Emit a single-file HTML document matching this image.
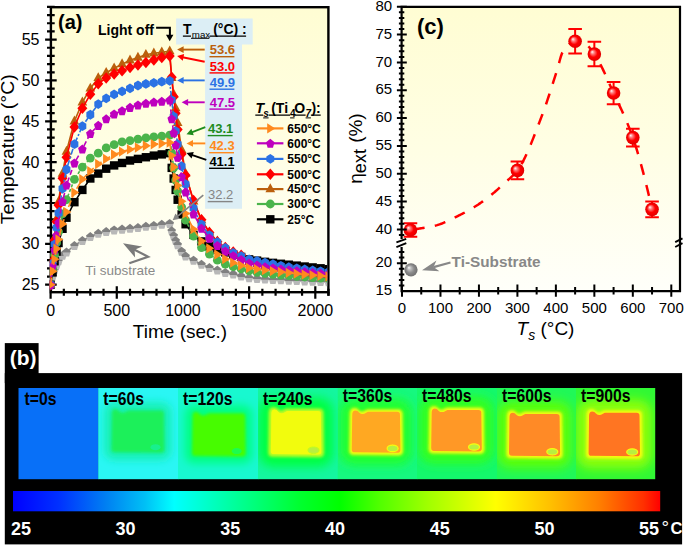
<!DOCTYPE html>
<html><head><meta charset="utf-8"><style>
html,body{margin:0;padding:0;background:#fff;width:685px;height:545px;overflow:hidden;position:relative}
</style></head><body>
<svg width="685" height="545" viewBox="0 0 685 545" style="position:absolute;left:0;top:0" font-family='"Liberation Sans", sans-serif'>
<defs>
<linearGradient id="bga" x1="0" y1="0" x2="0" y2="1"><stop offset="0" stop-color="#FFFDD3"/><stop offset="0.5" stop-color="#FFFEE4"/><stop offset="1" stop-color="#FFFFFA"/></linearGradient>
<linearGradient id="gpent" x1="0" y1="0" x2="0" y2="1"><stop offset="0" stop-color="#808080"/><stop offset="0.55" stop-color="#808080"/><stop offset="0.56" stop-color="#B8B8B8"/><stop offset="1" stop-color="#B8B8B8"/></linearGradient>
<radialGradient id="sphr" cx="0.5" cy="0.5" r="0.5" fx="0.33" fy="0.33"><stop offset="0" stop-color="#FFFFFF"/><stop offset="0.25" stop-color="#FF8080"/><stop offset="0.6" stop-color="#FF0000"/><stop offset="1" stop-color="#E00000"/></radialGradient>
<radialGradient id="sphg" cx="0.5" cy="0.5" r="0.5" fx="0.33" fy="0.33"><stop offset="0" stop-color="#FFFFFF"/><stop offset="0.25" stop-color="#C0C0C0"/><stop offset="0.6" stop-color="#8C8C8C"/><stop offset="1" stop-color="#707070"/></radialGradient>
<clipPath id="clipa"><rect x="49.7" y="8.4" width="277.5" height="282.6"/></clipPath>
</defs>
<rect x="50.9" y="7.2" width="277.5" height="285.0" fill="url(#bga)"/>
<path d="M176.1 18.6H252.7V44.5H242V208.8H205.1V44.5H176.1Z" fill="#DCEEF5"/>
<rect x="50.9" y="7.2" width="277.5" height="285.0" fill="none" stroke="#000" stroke-width="2.4"/>
<line x1="328.4" y1="292.2" x2="328.4" y2="295.8" stroke="#000" stroke-width="2.4"/>
<path d="M45.1 284.70H56.7M47 276.53H54.7M47 268.36H54.7M47 260.19H54.7M47 252.02H54.7M45.1 243.85H56.7M47 235.68H54.7M47 227.51H54.7M47 219.34H54.7M47 211.17H54.7M45.1 203.00H56.7M47 194.83H54.7M47 186.66H54.7M47 178.49H54.7M47 170.32H54.7M45.1 162.15H56.7M47 153.98H54.7M47 145.81H54.7M47 137.64H54.7M47 129.47H54.7M45.1 121.30H56.7M47 113.13H54.7M47 104.96H54.7M47 96.79H54.7M47 88.62H54.7M45.1 80.45H56.7M47 72.28H54.7M47 64.11H54.7M47 55.94H54.7M47 47.77H54.7M45.1 39.60H56.7M47 31.43H54.7M47 23.26H54.7M47 15.09H54.7M47 6.92H54.7M50.60 286.3V298.8M63.84 288.8V295.8M77.07 288.8V295.8M90.31 288.8V295.8M103.54 288.8V295.8M116.78 286.3V298.8M130.01 288.8V295.8M143.25 288.8V295.8M156.48 288.8V295.8M169.72 288.8V295.8M182.95 286.3V298.8M196.19 288.8V295.8M209.42 288.8V295.8M222.66 288.8V295.8M235.89 288.8V295.8M249.12 286.3V298.8M262.36 288.8V295.8M275.60 288.8V295.8M288.83 288.8V295.8M302.06 288.8V295.8M315.30 286.3V298.8M328.54 288.8V295.8" stroke="#000" stroke-width="2.2" fill="none"/>
<g clip-path="url(#clipa)">
<polyline points="50.60,284.70 52.59,276.34 54.57,269.83 56.56,264.76 58.54,260.81 62.51,255.34 66.48,252.02 74.42,245.48 82.36,240.58 90.31,236.50 98.25,233.23 106.19,231.59 114.13,229.96 122.07,229.14 130.01,228.33 137.95,227.51 145.89,226.28 153.83,225.47 161.77,224.24 169.72,223.43 171.70,230.78 173.69,235.68 175.67,240.58 177.66,244.67 181.63,251.20 185.60,256.11 193.54,260.19 201.48,264.27 209.42,267.54 217.36,269.99 225.30,272.44 233.24,274.08 241.18,276.12 249.12,277.76 257.07,278.50 265.01,279.05 272.95,279.47 280.89,279.84 288.83,280.21 296.77,280.59 304.71,280.95 312.65,281.28 320.59,281.58 328.54,281.84" fill="none" stroke="#8C8C8C" stroke-width="1.6"/>
<polygon points="50.60,280.15 54.88,283.60 53.25,289.20 47.95,289.20 46.32,283.60" fill="url(#gpent)"/>
<polygon points="52.59,271.79 56.87,275.24 55.23,280.83 49.94,280.83 48.31,275.24" fill="url(#gpent)"/>
<polygon points="54.57,265.28 58.85,268.73 57.22,274.32 51.93,274.32 50.29,268.73" fill="url(#gpent)"/>
<polygon points="56.56,260.21 60.84,263.66 59.20,269.25 53.91,269.25 52.28,263.66" fill="url(#gpent)"/>
<polygon points="58.54,256.26 62.82,259.71 61.19,265.30 55.90,265.30 54.26,259.71" fill="url(#gpent)"/>
<polygon points="62.51,250.79 66.79,254.24 65.16,259.83 59.87,259.83 58.23,254.24" fill="url(#gpent)"/>
<polygon points="66.48,247.47 70.76,250.92 69.13,256.52 63.84,256.52 62.20,250.92" fill="url(#gpent)"/>
<polygon points="74.42,240.93 78.70,244.39 77.07,249.98 71.78,249.98 70.14,244.39" fill="url(#gpent)"/>
<polygon points="82.36,236.03 86.64,239.49 85.01,245.08 79.72,245.08 78.08,239.49" fill="url(#gpent)"/>
<polygon points="90.31,231.95 94.58,235.40 92.95,240.99 87.66,240.99 86.03,235.40" fill="url(#gpent)"/>
<polygon points="98.25,228.68 102.53,232.13 100.89,237.72 95.60,237.72 93.97,232.13" fill="url(#gpent)"/>
<polygon points="106.19,227.04 110.47,230.50 108.83,236.09 103.54,236.09 101.91,230.50" fill="url(#gpent)"/>
<polygon points="114.13,225.41 118.41,228.87 116.77,234.46 111.48,234.46 109.85,228.87" fill="url(#gpent)"/>
<polygon points="122.07,224.59 126.35,228.05 124.71,233.64 119.42,233.64 117.79,228.05" fill="url(#gpent)"/>
<polygon points="130.01,223.78 134.29,227.23 132.66,232.82 127.36,232.82 125.73,227.23" fill="url(#gpent)"/>
<polygon points="137.95,222.96 142.23,226.41 140.60,232.01 135.31,232.01 133.67,226.41" fill="url(#gpent)"/>
<polygon points="145.89,221.73 150.17,225.19 148.54,230.78 143.25,230.78 141.61,225.19" fill="url(#gpent)"/>
<polygon points="153.83,220.92 158.11,224.37 156.48,229.96 151.19,229.96 149.55,224.37" fill="url(#gpent)"/>
<polygon points="161.77,219.69 166.05,223.15 164.42,228.74 159.13,228.74 157.49,223.15" fill="url(#gpent)"/>
<polygon points="169.72,218.88 173.99,222.33 172.36,227.92 167.07,227.92 165.44,222.33" fill="url(#gpent)"/>
<polygon points="171.70,226.23 175.98,229.68 174.35,235.27 169.06,235.27 167.42,229.68" fill="url(#gpent)"/>
<polygon points="173.69,231.13 177.97,234.58 176.33,240.18 171.04,240.18 169.41,234.58" fill="url(#gpent)"/>
<polygon points="175.67,236.03 179.95,239.49 178.32,245.08 173.03,245.08 171.39,239.49" fill="url(#gpent)"/>
<polygon points="177.66,240.12 181.94,243.57 180.30,249.16 175.01,249.16 173.38,243.57" fill="url(#gpent)"/>
<polygon points="181.63,246.65 185.91,250.11 184.27,255.70 178.98,255.70 177.35,250.11" fill="url(#gpent)"/>
<polygon points="185.60,251.56 189.88,255.01 188.24,260.60 182.95,260.60 181.32,255.01" fill="url(#gpent)"/>
<polygon points="193.54,255.64 197.82,259.09 196.18,264.69 190.89,264.69 189.26,259.09" fill="url(#gpent)"/>
<polygon points="201.48,259.72 205.76,263.18 204.12,268.77 198.83,268.77 197.20,263.18" fill="url(#gpent)"/>
<polygon points="209.42,262.99 213.70,266.45 212.07,272.04 206.77,272.04 205.14,266.45" fill="url(#gpent)"/>
<polygon points="217.36,265.44 221.64,268.90 220.01,274.49 214.72,274.49 213.08,268.90" fill="url(#gpent)"/>
<polygon points="225.30,267.89 229.58,271.35 227.95,276.94 222.66,276.94 221.02,271.35" fill="url(#gpent)"/>
<polygon points="233.24,269.53 237.52,272.98 235.89,278.57 230.60,278.57 228.96,272.98" fill="url(#gpent)"/>
<polygon points="241.18,271.57 245.46,275.03 243.83,280.62 238.54,280.62 236.90,275.03" fill="url(#gpent)"/>
<polygon points="249.12,273.21 253.40,276.66 251.77,282.25 246.48,282.25 244.85,276.66" fill="url(#gpent)"/>
<polygon points="257.07,273.95 261.35,277.40 259.71,282.99 254.42,282.99 252.79,277.40" fill="url(#gpent)"/>
<polygon points="265.01,274.50 269.29,277.95 267.65,283.54 262.36,283.54 260.73,277.95" fill="url(#gpent)"/>
<polygon points="272.95,274.92 277.23,278.38 275.59,283.97 270.30,283.97 268.67,278.38" fill="url(#gpent)"/>
<polygon points="280.89,275.29 285.17,278.74 283.53,284.33 278.24,284.33 276.61,278.74" fill="url(#gpent)"/>
<polygon points="288.83,275.66 293.11,279.11 291.48,284.70 286.18,284.70 284.55,279.11" fill="url(#gpent)"/>
<polygon points="296.77,276.04 301.05,279.49 299.42,285.08 294.13,285.08 292.49,279.49" fill="url(#gpent)"/>
<polygon points="304.71,276.40 308.99,279.85 307.36,285.44 302.07,285.44 300.43,279.85" fill="url(#gpent)"/>
<polygon points="312.65,276.73 316.93,280.18 315.30,285.77 310.01,285.77 308.37,280.18" fill="url(#gpent)"/>
<polygon points="320.59,277.03 324.87,280.48 323.24,286.07 317.95,286.07 316.31,280.48" fill="url(#gpent)"/>
<polygon points="328.54,277.29 332.81,280.75 331.18,286.34 325.89,286.34 324.26,280.75" fill="url(#gpent)"/>
<polyline points="50.60,284.70 52.59,272.25 54.57,261.26 56.56,251.56 58.54,243.00 62.51,228.78 66.48,217.71 74.42,202.18 82.36,189.93 90.31,178.49 98.25,173.59 106.19,168.69 114.13,165.42 122.07,162.97 130.01,160.52 137.95,158.88 145.89,157.25 153.83,155.61 161.77,154.39 169.72,153.16 171.70,167.87 173.69,178.49 175.67,189.93 177.66,199.73 181.63,214.44 185.60,224.24 193.54,234.86 201.48,241.40 209.42,246.30 217.36,249.57 225.30,252.43 233.24,254.47 241.18,256.92 249.12,259.37 257.07,260.60 265.01,261.82 272.95,262.85 280.89,263.77 288.83,264.68 296.77,265.61 304.71,266.52 312.65,267.42 320.59,268.30 328.54,269.18" fill="none" stroke="#000000" stroke-width="1.6"/>
<rect x="46.40" y="280.50" width="8.4" height="8.4" fill="#000"/>
<rect x="48.39" y="268.05" width="8.4" height="8.4" fill="#000"/>
<rect x="50.37" y="257.06" width="8.4" height="8.4" fill="#000"/>
<rect x="52.36" y="247.36" width="8.4" height="8.4" fill="#000"/>
<rect x="54.34" y="238.80" width="8.4" height="8.4" fill="#000"/>
<rect x="58.31" y="224.58" width="8.4" height="8.4" fill="#000"/>
<rect x="62.28" y="213.51" width="8.4" height="8.4" fill="#000"/>
<rect x="70.22" y="197.98" width="8.4" height="8.4" fill="#000"/>
<rect x="78.16" y="185.73" width="8.4" height="8.4" fill="#000"/>
<rect x="86.11" y="174.29" width="8.4" height="8.4" fill="#000"/>
<rect x="94.05" y="169.39" width="8.4" height="8.4" fill="#000"/>
<rect x="101.99" y="164.49" width="8.4" height="8.4" fill="#000"/>
<rect x="109.93" y="161.22" width="8.4" height="8.4" fill="#000"/>
<rect x="117.87" y="158.77" width="8.4" height="8.4" fill="#000"/>
<rect x="125.81" y="156.32" width="8.4" height="8.4" fill="#000"/>
<rect x="133.75" y="154.68" width="8.4" height="8.4" fill="#000"/>
<rect x="141.69" y="153.05" width="8.4" height="8.4" fill="#000"/>
<rect x="149.63" y="151.41" width="8.4" height="8.4" fill="#000"/>
<rect x="157.57" y="150.19" width="8.4" height="8.4" fill="#000"/>
<rect x="165.52" y="148.96" width="8.4" height="8.4" fill="#000"/>
<rect x="167.50" y="163.67" width="8.4" height="8.4" fill="#000"/>
<rect x="169.49" y="174.29" width="8.4" height="8.4" fill="#000"/>
<rect x="171.47" y="185.73" width="8.4" height="8.4" fill="#000"/>
<rect x="173.46" y="195.53" width="8.4" height="8.4" fill="#000"/>
<rect x="177.43" y="210.24" width="8.4" height="8.4" fill="#000"/>
<rect x="181.40" y="220.04" width="8.4" height="8.4" fill="#000"/>
<rect x="189.34" y="230.66" width="8.4" height="8.4" fill="#000"/>
<rect x="197.28" y="237.20" width="8.4" height="8.4" fill="#000"/>
<rect x="205.22" y="242.10" width="8.4" height="8.4" fill="#000"/>
<rect x="213.16" y="245.37" width="8.4" height="8.4" fill="#000"/>
<rect x="221.10" y="248.23" width="8.4" height="8.4" fill="#000"/>
<rect x="229.04" y="250.27" width="8.4" height="8.4" fill="#000"/>
<rect x="236.98" y="252.72" width="8.4" height="8.4" fill="#000"/>
<rect x="244.93" y="255.17" width="8.4" height="8.4" fill="#000"/>
<rect x="252.87" y="256.40" width="8.4" height="8.4" fill="#000"/>
<rect x="260.81" y="257.62" width="8.4" height="8.4" fill="#000"/>
<rect x="268.75" y="258.65" width="8.4" height="8.4" fill="#000"/>
<rect x="276.69" y="259.57" width="8.4" height="8.4" fill="#000"/>
<rect x="284.63" y="260.48" width="8.4" height="8.4" fill="#000"/>
<rect x="292.57" y="261.41" width="8.4" height="8.4" fill="#000"/>
<rect x="300.51" y="262.32" width="8.4" height="8.4" fill="#000"/>
<rect x="308.45" y="263.22" width="8.4" height="8.4" fill="#000"/>
<rect x="316.39" y="264.10" width="8.4" height="8.4" fill="#000"/>
<rect x="324.34" y="264.98" width="8.4" height="8.4" fill="#000"/>
<polyline points="50.60,284.70 52.59,268.91 54.57,254.97 56.56,242.67 58.54,231.81 62.51,213.78 66.48,199.73 74.42,179.31 82.36,167.05 90.31,158.06 98.25,153.16 106.19,147.93 114.13,144.67 122.07,141.97 130.01,140.58 137.95,139.11 145.89,137.89 153.83,136.90 161.77,136.09 169.72,135.19 171.70,153.16 173.69,167.87 175.67,180.12 177.66,191.15 181.63,207.08 185.60,220.16 193.54,236.09 201.48,247.53 209.42,254.06 217.36,260.19 225.30,264.03 233.24,266.73 241.18,268.93 249.12,270.81 257.07,272.44 265.01,273.49 272.95,274.32 280.89,275.04 288.83,275.71 296.77,276.37 304.71,277.00 312.65,277.58 320.59,278.10 328.54,278.57" fill="none" stroke="#4BB44B" stroke-width="1.6" stroke-dasharray="3 2"/>
<circle cx="50.60" cy="284.70" r="4.4" fill="#4BB44B"/>
<circle cx="52.59" cy="268.91" r="4.4" fill="#4BB44B"/>
<circle cx="54.57" cy="254.97" r="4.4" fill="#4BB44B"/>
<circle cx="56.56" cy="242.67" r="4.4" fill="#4BB44B"/>
<circle cx="58.54" cy="231.81" r="4.4" fill="#4BB44B"/>
<circle cx="62.51" cy="213.78" r="4.4" fill="#4BB44B"/>
<circle cx="66.48" cy="199.73" r="4.4" fill="#4BB44B"/>
<circle cx="74.42" cy="179.31" r="4.4" fill="#4BB44B"/>
<circle cx="82.36" cy="167.05" r="4.4" fill="#4BB44B"/>
<circle cx="90.31" cy="158.06" r="4.4" fill="#4BB44B"/>
<circle cx="98.25" cy="153.16" r="4.4" fill="#4BB44B"/>
<circle cx="106.19" cy="147.93" r="4.4" fill="#4BB44B"/>
<circle cx="114.13" cy="144.67" r="4.4" fill="#4BB44B"/>
<circle cx="122.07" cy="141.97" r="4.4" fill="#4BB44B"/>
<circle cx="130.01" cy="140.58" r="4.4" fill="#4BB44B"/>
<circle cx="137.95" cy="139.11" r="4.4" fill="#4BB44B"/>
<circle cx="145.89" cy="137.89" r="4.4" fill="#4BB44B"/>
<circle cx="153.83" cy="136.90" r="4.4" fill="#4BB44B"/>
<circle cx="161.77" cy="136.09" r="4.4" fill="#4BB44B"/>
<circle cx="169.72" cy="135.19" r="4.4" fill="#4BB44B"/>
<circle cx="171.70" cy="153.16" r="4.4" fill="#4BB44B"/>
<circle cx="173.69" cy="167.87" r="4.4" fill="#4BB44B"/>
<circle cx="175.67" cy="180.12" r="4.4" fill="#4BB44B"/>
<circle cx="177.66" cy="191.15" r="4.4" fill="#4BB44B"/>
<circle cx="181.63" cy="207.08" r="4.4" fill="#4BB44B"/>
<circle cx="185.60" cy="220.16" r="4.4" fill="#4BB44B"/>
<circle cx="193.54" cy="236.09" r="4.4" fill="#4BB44B"/>
<circle cx="201.48" cy="247.53" r="4.4" fill="#4BB44B"/>
<circle cx="209.42" cy="254.06" r="4.4" fill="#4BB44B"/>
<circle cx="217.36" cy="260.19" r="4.4" fill="#4BB44B"/>
<circle cx="225.30" cy="264.03" r="4.4" fill="#4BB44B"/>
<circle cx="233.24" cy="266.73" r="4.4" fill="#4BB44B"/>
<circle cx="241.18" cy="268.93" r="4.4" fill="#4BB44B"/>
<circle cx="249.12" cy="270.81" r="4.4" fill="#4BB44B"/>
<circle cx="257.07" cy="272.44" r="4.4" fill="#4BB44B"/>
<circle cx="265.01" cy="273.49" r="4.4" fill="#4BB44B"/>
<circle cx="272.95" cy="274.32" r="4.4" fill="#4BB44B"/>
<circle cx="280.89" cy="275.04" r="4.4" fill="#4BB44B"/>
<circle cx="288.83" cy="275.71" r="4.4" fill="#4BB44B"/>
<circle cx="296.77" cy="276.37" r="4.4" fill="#4BB44B"/>
<circle cx="304.71" cy="277.00" r="4.4" fill="#4BB44B"/>
<circle cx="312.65" cy="277.58" r="4.4" fill="#4BB44B"/>
<circle cx="320.59" cy="278.10" r="4.4" fill="#4BB44B"/>
<circle cx="328.54" cy="278.57" r="4.4" fill="#4BB44B"/>
<polyline points="50.60,284.70 52.59,259.95 54.57,238.10 56.56,218.82 58.54,201.81 62.51,173.54 66.48,151.53 74.42,121.30 82.36,102.35 90.31,88.46 98.25,78.00 106.19,72.69 114.13,68.19 122.07,64.11 130.01,60.35 137.95,57.57 145.89,54.71 153.83,53.33 161.77,52.18 169.72,51.20 171.70,78.00 173.69,94.34 175.67,108.23 177.66,122.93 181.63,149.89 185.60,173.59 193.54,201.37 201.48,220.16 209.42,232.41 217.36,241.40 225.30,247.94 233.24,252.84 241.18,257.74 249.12,261.82 257.07,264.13 265.01,265.97 272.95,267.47 280.89,268.77 288.83,269.99 296.77,271.18 304.71,272.29 312.65,273.29 320.59,274.16 328.54,274.90" fill="none" stroke="#BB5F0C" stroke-width="1.6"/>
<path d="M50.60 278.90L55.45 287.80L45.75 287.80Z" fill="#BB5F0C"/>
<path d="M52.59 254.15L57.44 263.05L47.74 263.05Z" fill="#BB5F0C"/>
<path d="M54.57 232.30L59.42 241.20L49.72 241.20Z" fill="#BB5F0C"/>
<path d="M56.56 213.02L61.41 221.92L51.71 221.92Z" fill="#BB5F0C"/>
<path d="M58.54 196.01L63.39 204.91L53.69 204.91Z" fill="#BB5F0C"/>
<path d="M62.51 167.74L67.36 176.64L57.66 176.64Z" fill="#BB5F0C"/>
<path d="M66.48 145.73L71.33 154.63L61.63 154.63Z" fill="#BB5F0C"/>
<path d="M74.42 115.50L79.27 124.40L69.57 124.40Z" fill="#BB5F0C"/>
<path d="M82.36 96.55L87.21 105.45L77.51 105.45Z" fill="#BB5F0C"/>
<path d="M90.31 82.66L95.16 91.56L85.46 91.56Z" fill="#BB5F0C"/>
<path d="M98.25 72.20L103.10 81.10L93.40 81.10Z" fill="#BB5F0C"/>
<path d="M106.19 66.89L111.04 75.79L101.34 75.79Z" fill="#BB5F0C"/>
<path d="M114.13 62.39L118.98 71.29L109.28 71.29Z" fill="#BB5F0C"/>
<path d="M122.07 58.31L126.92 67.21L117.22 67.21Z" fill="#BB5F0C"/>
<path d="M130.01 54.55L134.86 63.45L125.16 63.45Z" fill="#BB5F0C"/>
<path d="M137.95 51.77L142.80 60.67L133.10 60.67Z" fill="#BB5F0C"/>
<path d="M145.89 48.91L150.74 57.81L141.04 57.81Z" fill="#BB5F0C"/>
<path d="M153.83 47.53L158.68 56.43L148.98 56.43Z" fill="#BB5F0C"/>
<path d="M161.77 46.38L166.62 55.28L156.92 55.28Z" fill="#BB5F0C"/>
<path d="M169.72 45.40L174.56 54.30L164.87 54.30Z" fill="#BB5F0C"/>
<path d="M171.70 72.20L176.55 81.10L166.85 81.10Z" fill="#BB5F0C"/>
<path d="M173.69 88.54L178.54 97.44L168.84 97.44Z" fill="#BB5F0C"/>
<path d="M175.67 102.43L180.52 111.33L170.82 111.33Z" fill="#BB5F0C"/>
<path d="M177.66 117.13L182.51 126.03L172.81 126.03Z" fill="#BB5F0C"/>
<path d="M181.63 144.09L186.48 152.99L176.78 152.99Z" fill="#BB5F0C"/>
<path d="M185.60 167.79L190.45 176.69L180.75 176.69Z" fill="#BB5F0C"/>
<path d="M193.54 195.57L198.39 204.47L188.69 204.47Z" fill="#BB5F0C"/>
<path d="M201.48 214.36L206.33 223.26L196.63 223.26Z" fill="#BB5F0C"/>
<path d="M209.42 226.61L214.27 235.51L204.57 235.51Z" fill="#BB5F0C"/>
<path d="M217.36 235.60L222.21 244.50L212.51 244.50Z" fill="#BB5F0C"/>
<path d="M225.30 242.13L230.15 251.03L220.45 251.03Z" fill="#BB5F0C"/>
<path d="M233.24 247.04L238.09 255.94L228.39 255.94Z" fill="#BB5F0C"/>
<path d="M241.18 251.94L246.03 260.84L236.33 260.84Z" fill="#BB5F0C"/>
<path d="M249.12 256.02L253.97 264.92L244.28 264.92Z" fill="#BB5F0C"/>
<path d="M257.07 258.33L261.92 267.23L252.22 267.23Z" fill="#BB5F0C"/>
<path d="M265.01 260.17L269.86 269.07L260.16 269.07Z" fill="#BB5F0C"/>
<path d="M272.95 261.67L277.80 270.57L268.10 270.57Z" fill="#BB5F0C"/>
<path d="M280.89 262.97L285.74 271.87L276.04 271.87Z" fill="#BB5F0C"/>
<path d="M288.83 264.19L293.68 273.09L283.98 273.09Z" fill="#BB5F0C"/>
<path d="M296.77 265.38L301.62 274.28L291.92 274.28Z" fill="#BB5F0C"/>
<path d="M304.71 266.49L309.56 275.39L299.86 275.39Z" fill="#BB5F0C"/>
<path d="M312.65 267.49L317.50 276.39L307.80 276.39Z" fill="#BB5F0C"/>
<path d="M320.59 268.36L325.44 277.26L315.74 277.26Z" fill="#BB5F0C"/>
<path d="M328.54 269.10L333.39 278.00L323.69 278.00Z" fill="#BB5F0C"/>
<polyline points="50.60,284.70 52.59,261.01 54.57,240.10 56.56,221.65 58.54,205.37 62.51,178.32 66.48,157.25 74.42,127.02 82.36,108.23 90.31,94.34 98.25,83.72 106.19,78.00 114.13,73.91 122.07,70.65 130.01,67.38 137.95,64.93 145.89,62.48 153.83,60.02 161.77,57.57 169.72,55.94 171.70,77.18 173.69,96.79 175.67,113.13 177.66,129.47 181.63,153.98 185.60,175.22 193.54,200.55 201.48,219.75 209.42,232.41 217.36,241.81 225.30,247.53 233.24,252.02 241.18,255.29 249.12,260.60 257.07,262.64 265.01,264.39 272.95,266.00 280.89,267.47 288.83,268.77 296.77,269.94 304.71,271.04 312.65,272.04 320.59,272.92 328.54,273.67" fill="none" stroke="#FF0000" stroke-width="1.6"/>
<path d="M50.60 278.95L55.60 284.70L50.60 290.45L45.60 284.70Z" fill="#FF0000"/>
<path d="M52.59 255.26L57.59 261.01L52.59 266.76L47.59 261.01Z" fill="#FF0000"/>
<path d="M54.57 234.35L59.57 240.10L54.57 245.85L49.57 240.10Z" fill="#FF0000"/>
<path d="M56.56 215.90L61.56 221.65L56.56 227.40L51.56 221.65Z" fill="#FF0000"/>
<path d="M58.54 199.62L63.54 205.37L58.54 211.12L53.54 205.37Z" fill="#FF0000"/>
<path d="M62.51 172.57L67.51 178.32L62.51 184.07L57.51 178.32Z" fill="#FF0000"/>
<path d="M66.48 151.50L71.48 157.25L66.48 163.00L61.48 157.25Z" fill="#FF0000"/>
<path d="M74.42 121.27L79.42 127.02L74.42 132.77L69.42 127.02Z" fill="#FF0000"/>
<path d="M82.36 102.48L87.36 108.23L82.36 113.98L77.36 108.23Z" fill="#FF0000"/>
<path d="M90.31 88.59L95.31 94.34L90.31 100.09L85.31 94.34Z" fill="#FF0000"/>
<path d="M98.25 77.97L103.25 83.72L98.25 89.47L93.25 83.72Z" fill="#FF0000"/>
<path d="M106.19 72.25L111.19 78.00L106.19 83.75L101.19 78.00Z" fill="#FF0000"/>
<path d="M114.13 68.16L119.13 73.91L114.13 79.66L109.13 73.91Z" fill="#FF0000"/>
<path d="M122.07 64.90L127.07 70.65L122.07 76.40L117.07 70.65Z" fill="#FF0000"/>
<path d="M130.01 61.63L135.01 67.38L130.01 73.13L125.01 67.38Z" fill="#FF0000"/>
<path d="M137.95 59.18L142.95 64.93L137.95 70.68L132.95 64.93Z" fill="#FF0000"/>
<path d="M145.89 56.73L150.89 62.48L145.89 68.23L140.89 62.48Z" fill="#FF0000"/>
<path d="M153.83 54.27L158.83 60.02L153.83 65.77L148.83 60.02Z" fill="#FF0000"/>
<path d="M161.77 51.82L166.77 57.57L161.77 63.32L156.77 57.57Z" fill="#FF0000"/>
<path d="M169.72 50.19L174.72 55.94L169.72 61.69L164.72 55.94Z" fill="#FF0000"/>
<path d="M171.70 71.43L176.70 77.18L171.70 82.93L166.70 77.18Z" fill="#FF0000"/>
<path d="M173.69 91.04L178.69 96.79L173.69 102.54L168.69 96.79Z" fill="#FF0000"/>
<path d="M175.67 107.38L180.67 113.13L175.67 118.88L170.67 113.13Z" fill="#FF0000"/>
<path d="M177.66 123.72L182.66 129.47L177.66 135.22L172.66 129.47Z" fill="#FF0000"/>
<path d="M181.63 148.23L186.63 153.98L181.63 159.73L176.63 153.98Z" fill="#FF0000"/>
<path d="M185.60 169.47L190.60 175.22L185.60 180.97L180.60 175.22Z" fill="#FF0000"/>
<path d="M193.54 194.80L198.54 200.55L193.54 206.30L188.54 200.55Z" fill="#FF0000"/>
<path d="M201.48 214.00L206.48 219.75L201.48 225.50L196.48 219.75Z" fill="#FF0000"/>
<path d="M209.42 226.66L214.42 232.41L209.42 238.16L204.42 232.41Z" fill="#FF0000"/>
<path d="M217.36 236.06L222.36 241.81L217.36 247.56L212.36 241.81Z" fill="#FF0000"/>
<path d="M225.30 241.78L230.30 247.53L225.30 253.28L220.30 247.53Z" fill="#FF0000"/>
<path d="M233.24 246.27L238.24 252.02L233.24 257.77L228.24 252.02Z" fill="#FF0000"/>
<path d="M241.18 249.54L246.18 255.29L241.18 261.04L236.18 255.29Z" fill="#FF0000"/>
<path d="M249.12 254.85L254.12 260.60L249.12 266.35L244.12 260.60Z" fill="#FF0000"/>
<path d="M257.07 256.89L262.07 262.64L257.07 268.39L252.07 262.64Z" fill="#FF0000"/>
<path d="M265.01 258.64L270.01 264.39L265.01 270.14L260.01 264.39Z" fill="#FF0000"/>
<path d="M272.95 260.25L277.95 266.00L272.95 271.75L267.95 266.00Z" fill="#FF0000"/>
<path d="M280.89 261.72L285.89 267.47L280.89 273.22L275.89 267.47Z" fill="#FF0000"/>
<path d="M288.83 263.02L293.83 268.77L288.83 274.52L283.83 268.77Z" fill="#FF0000"/>
<path d="M296.77 264.19L301.77 269.94L296.77 275.69L291.77 269.94Z" fill="#FF0000"/>
<path d="M304.71 265.29L309.71 271.04L304.71 276.79L299.71 271.04Z" fill="#FF0000"/>
<path d="M312.65 266.29L317.65 272.04L312.65 277.79L307.65 272.04Z" fill="#FF0000"/>
<path d="M320.59 267.17L325.59 272.92L320.59 278.67L315.59 272.92Z" fill="#FF0000"/>
<path d="M328.54 267.92L333.54 273.67L328.54 279.42L323.54 273.67Z" fill="#FF0000"/>
<polyline points="50.60,284.70 52.59,263.29 54.57,244.39 56.56,227.71 58.54,212.99 62.51,188.54 66.48,169.50 74.42,144.18 82.36,126.20 90.31,114.76 98.25,104.14 106.19,98.42 114.13,94.34 122.07,91.40 130.01,88.37 137.95,85.52 145.89,83.96 153.83,82.90 161.77,81.68 169.72,80.86 171.70,100.06 173.69,116.40 175.67,131.10 177.66,144.18 181.63,166.23 185.60,184.21 193.54,208.31 201.48,224.49 209.42,235.27 217.36,242.22 225.30,247.94 233.24,252.84 241.18,256.11 249.12,259.37 257.07,261.01 265.01,262.64 272.95,264.24 280.89,265.78 288.83,267.13 296.77,268.31 304.71,269.41 312.65,270.42 320.59,271.30 328.54,272.04" fill="none" stroke="#2B72E4" stroke-width="1.6" stroke-dasharray="6 2 2 2"/>
<polygon points="50.60,279.80 54.55,282.25 54.55,287.15 50.60,289.60 46.65,287.15 46.65,282.25" fill="#2B72E4"/>
<polygon points="52.59,258.39 56.53,260.84 56.53,265.74 52.59,268.19 48.64,265.74 48.64,260.84" fill="#2B72E4"/>
<polygon points="54.57,239.49 58.52,241.94 58.52,246.84 54.57,249.29 50.62,246.84 50.62,241.94" fill="#2B72E4"/>
<polygon points="56.56,222.81 60.50,225.26 60.50,230.16 56.56,232.61 52.61,230.16 52.61,225.26" fill="#2B72E4"/>
<polygon points="58.54,208.09 62.49,210.54 62.49,215.44 58.54,217.89 54.59,215.44 54.59,210.54" fill="#2B72E4"/>
<polygon points="62.51,183.64 66.46,186.09 66.46,190.99 62.51,193.44 58.57,190.99 58.57,186.09" fill="#2B72E4"/>
<polygon points="66.48,164.60 70.43,167.05 70.43,171.95 66.48,174.40 62.54,171.95 62.54,167.05" fill="#2B72E4"/>
<polygon points="74.42,139.28 78.37,141.73 78.37,146.63 74.42,149.08 70.48,146.63 70.48,141.73" fill="#2B72E4"/>
<polygon points="82.36,121.30 86.31,123.75 86.31,128.65 82.36,131.10 78.42,128.65 78.42,123.75" fill="#2B72E4"/>
<polygon points="90.31,109.86 94.25,112.31 94.25,117.21 90.31,119.66 86.36,117.21 86.36,112.31" fill="#2B72E4"/>
<polygon points="98.25,99.24 102.19,101.69 102.19,106.59 98.25,109.04 94.30,106.59 94.30,101.69" fill="#2B72E4"/>
<polygon points="106.19,93.52 110.13,95.97 110.13,100.87 106.19,103.32 102.24,100.87 102.24,95.97" fill="#2B72E4"/>
<polygon points="114.13,89.44 118.07,91.89 118.07,96.79 114.13,99.24 110.18,96.79 110.18,91.89" fill="#2B72E4"/>
<polygon points="122.07,86.50 126.02,88.95 126.02,93.85 122.07,96.30 118.12,93.85 118.12,88.95" fill="#2B72E4"/>
<polygon points="130.01,83.47 133.96,85.92 133.96,90.82 130.01,93.27 126.06,90.82 126.06,85.92" fill="#2B72E4"/>
<polygon points="137.95,80.62 141.90,83.07 141.90,87.97 137.95,90.42 134.00,87.97 134.00,83.07" fill="#2B72E4"/>
<polygon points="145.89,79.06 149.84,81.51 149.84,86.41 145.89,88.86 141.95,86.41 141.95,81.51" fill="#2B72E4"/>
<polygon points="153.83,78.00 157.78,80.45 157.78,85.35 153.83,87.80 149.89,85.35 149.89,80.45" fill="#2B72E4"/>
<polygon points="161.77,76.78 165.72,79.23 165.72,84.13 161.77,86.58 157.83,84.13 157.83,79.23" fill="#2B72E4"/>
<polygon points="169.72,75.96 173.66,78.41 173.66,83.31 169.72,85.76 165.77,83.31 165.77,78.41" fill="#2B72E4"/>
<polygon points="171.70,95.16 175.65,97.61 175.65,102.51 171.70,104.96 167.75,102.51 167.75,97.61" fill="#2B72E4"/>
<polygon points="173.69,111.50 177.63,113.95 177.63,118.85 173.69,121.30 169.74,118.85 169.74,113.95" fill="#2B72E4"/>
<polygon points="175.67,126.20 179.62,128.65 179.62,133.55 175.67,136.00 171.72,133.55 171.72,128.65" fill="#2B72E4"/>
<polygon points="177.66,139.28 181.60,141.73 181.60,146.63 177.66,149.08 173.71,146.63 173.71,141.73" fill="#2B72E4"/>
<polygon points="181.63,161.33 185.57,163.78 185.57,168.68 181.63,171.13 177.68,168.68 177.68,163.78" fill="#2B72E4"/>
<polygon points="185.60,179.31 189.54,181.76 189.54,186.66 185.60,189.11 181.65,186.66 181.65,181.76" fill="#2B72E4"/>
<polygon points="193.54,203.41 197.48,205.86 197.48,210.76 193.54,213.21 189.59,210.76 189.59,205.86" fill="#2B72E4"/>
<polygon points="201.48,219.59 205.43,222.04 205.43,226.94 201.48,229.39 197.53,226.94 197.53,222.04" fill="#2B72E4"/>
<polygon points="209.42,230.37 213.37,232.82 213.37,237.72 209.42,240.17 205.47,237.72 205.47,232.82" fill="#2B72E4"/>
<polygon points="217.36,237.32 221.31,239.77 221.31,244.67 217.36,247.12 213.41,244.67 213.41,239.77" fill="#2B72E4"/>
<polygon points="225.30,243.03 229.25,245.49 229.25,250.38 225.30,252.84 221.36,250.38 221.36,245.49" fill="#2B72E4"/>
<polygon points="233.24,247.94 237.19,250.39 237.19,255.29 233.24,257.74 229.30,255.29 229.30,250.39" fill="#2B72E4"/>
<polygon points="241.18,251.21 245.13,253.66 245.13,258.56 241.18,261.00 237.24,258.56 237.24,253.66" fill="#2B72E4"/>
<polygon points="249.12,254.47 253.07,256.92 253.07,261.82 249.12,264.27 245.18,261.82 245.18,256.92" fill="#2B72E4"/>
<polygon points="257.07,256.11 261.01,258.56 261.01,263.46 257.07,265.91 253.12,263.46 253.12,258.56" fill="#2B72E4"/>
<polygon points="265.01,257.74 268.95,260.19 268.95,265.09 265.01,267.54 261.06,265.09 261.06,260.19" fill="#2B72E4"/>
<polygon points="272.95,259.34 276.89,261.79 276.89,266.69 272.95,269.14 269.00,266.69 269.00,261.79" fill="#2B72E4"/>
<polygon points="280.89,260.88 284.84,263.33 284.84,268.23 280.89,270.68 276.94,268.23 276.94,263.33" fill="#2B72E4"/>
<polygon points="288.83,262.23 292.78,264.68 292.78,269.58 288.83,272.03 284.88,269.58 284.88,264.68" fill="#2B72E4"/>
<polygon points="296.77,263.41 300.72,265.86 300.72,270.76 296.77,273.21 292.82,270.76 292.82,265.86" fill="#2B72E4"/>
<polygon points="304.71,264.51 308.66,266.96 308.66,271.86 304.71,274.31 300.77,271.86 300.77,266.96" fill="#2B72E4"/>
<polygon points="312.65,265.52 316.60,267.97 316.60,272.87 312.65,275.32 308.71,272.87 308.71,267.97" fill="#2B72E4"/>
<polygon points="320.59,266.40 324.54,268.85 324.54,273.75 320.59,276.20 316.65,273.75 316.65,268.85" fill="#2B72E4"/>
<polygon points="328.54,267.14 332.48,269.59 332.48,274.49 328.54,276.94 324.59,274.49 324.59,269.59" fill="#2B72E4"/>
<polyline points="50.60,284.70 52.59,266.17 54.57,249.82 56.56,235.39 58.54,222.66 62.51,201.50 66.48,185.03 74.42,162.97 82.36,149.08 90.31,133.55 98.25,125.38 106.19,118.85 114.13,113.95 122.07,110.68 130.01,107.41 137.95,104.96 145.89,103.33 153.83,102.10 161.77,101.28 169.72,100.06 171.70,118.85 173.69,132.74 175.67,144.99 177.66,157.25 181.63,176.86 185.60,191.97 193.54,214.11 201.48,228.33 209.42,238.13 217.36,245.48 225.30,251.20 233.24,255.70 241.18,259.62 249.12,263.05 257.07,265.09 265.01,266.73 272.95,267.96 280.89,269.03 288.83,269.99 296.77,270.92 304.71,271.80 312.65,272.63 320.59,273.39 328.54,274.08" fill="none" stroke="#BE00BE" stroke-width="1.6" stroke-dasharray="5 3"/>
<polygon points="50.60,280.15 54.88,283.60 53.25,289.20 47.95,289.20 46.32,283.60" fill="#BE00BE"/>
<polygon points="52.59,261.62 56.87,265.08 55.23,270.67 49.94,270.67 48.31,265.08" fill="#BE00BE"/>
<polygon points="54.57,245.27 58.85,248.73 57.22,254.32 51.93,254.32 50.29,248.73" fill="#BE00BE"/>
<polygon points="56.56,230.84 60.84,234.30 59.20,239.89 53.91,239.89 52.28,234.30" fill="#BE00BE"/>
<polygon points="58.54,218.11 62.82,221.56 61.19,227.15 55.90,227.15 54.26,221.56" fill="#BE00BE"/>
<polygon points="62.51,196.95 66.79,200.41 65.16,206.00 59.87,206.00 58.23,200.41" fill="#BE00BE"/>
<polygon points="66.48,180.48 70.76,183.93 69.13,189.52 63.84,189.52 62.20,183.93" fill="#BE00BE"/>
<polygon points="74.42,158.42 78.70,161.87 77.07,167.46 71.78,167.46 70.14,161.87" fill="#BE00BE"/>
<polygon points="82.36,144.53 86.64,147.98 85.01,153.57 79.72,153.57 78.08,147.98" fill="#BE00BE"/>
<polygon points="90.31,129.00 94.58,132.46 92.95,138.05 87.66,138.05 86.03,132.46" fill="#BE00BE"/>
<polygon points="98.25,120.83 102.53,124.29 100.89,129.88 95.60,129.88 93.97,124.29" fill="#BE00BE"/>
<polygon points="106.19,114.30 110.47,117.75 108.83,123.34 103.54,123.34 101.91,117.75" fill="#BE00BE"/>
<polygon points="114.13,109.40 118.41,112.85 116.77,118.44 111.48,118.44 109.85,112.85" fill="#BE00BE"/>
<polygon points="122.07,106.13 126.35,109.58 124.71,115.17 119.42,115.17 117.79,109.58" fill="#BE00BE"/>
<polygon points="130.01,102.86 134.29,106.32 132.66,111.91 127.36,111.91 125.73,106.32" fill="#BE00BE"/>
<polygon points="137.95,100.41 142.23,103.86 140.60,109.46 135.31,109.46 133.67,103.86" fill="#BE00BE"/>
<polygon points="145.89,98.78 150.17,102.23 148.54,107.82 143.25,107.82 141.61,102.23" fill="#BE00BE"/>
<polygon points="153.83,97.55 158.11,101.01 156.48,106.60 151.19,106.60 149.55,101.01" fill="#BE00BE"/>
<polygon points="161.77,96.73 166.05,100.19 164.42,105.78 159.13,105.78 157.49,100.19" fill="#BE00BE"/>
<polygon points="169.72,95.51 173.99,98.96 172.36,104.55 167.07,104.55 165.44,98.96" fill="#BE00BE"/>
<polygon points="171.70,114.30 175.98,117.75 174.35,123.34 169.06,123.34 167.42,117.75" fill="#BE00BE"/>
<polygon points="173.69,128.19 177.97,131.64 176.33,137.23 171.04,137.23 169.41,131.64" fill="#BE00BE"/>
<polygon points="175.67,140.44 179.95,143.90 178.32,149.49 173.03,149.49 171.39,143.90" fill="#BE00BE"/>
<polygon points="177.66,152.70 181.94,156.15 180.30,161.74 175.01,161.74 173.38,156.15" fill="#BE00BE"/>
<polygon points="181.63,172.31 185.91,175.76 184.27,181.35 178.98,181.35 177.35,175.76" fill="#BE00BE"/>
<polygon points="185.60,187.42 189.88,190.88 188.24,196.47 182.95,196.47 181.32,190.88" fill="#BE00BE"/>
<polygon points="193.54,209.56 197.82,213.02 196.18,218.61 190.89,218.61 189.26,213.02" fill="#BE00BE"/>
<polygon points="201.48,223.78 205.76,227.23 204.12,232.82 198.83,232.82 197.20,227.23" fill="#BE00BE"/>
<polygon points="209.42,233.58 213.70,237.04 212.07,242.63 206.77,242.63 205.14,237.04" fill="#BE00BE"/>
<polygon points="217.36,240.93 221.64,244.39 220.01,249.98 214.72,249.98 213.08,244.39" fill="#BE00BE"/>
<polygon points="225.30,246.65 229.58,250.11 227.95,255.70 222.66,255.70 221.02,250.11" fill="#BE00BE"/>
<polygon points="233.24,251.15 237.52,254.60 235.89,260.19 230.60,260.19 228.96,254.60" fill="#BE00BE"/>
<polygon points="241.18,255.07 245.46,258.52 243.83,264.11 238.54,264.11 236.90,258.52" fill="#BE00BE"/>
<polygon points="249.12,258.50 253.40,261.95 251.77,267.54 246.48,267.54 244.85,261.95" fill="#BE00BE"/>
<polygon points="257.07,260.54 261.35,264.00 259.71,269.59 254.42,269.59 252.79,264.00" fill="#BE00BE"/>
<polygon points="265.01,262.18 269.29,265.63 267.65,271.22 262.36,271.22 260.73,265.63" fill="#BE00BE"/>
<polygon points="272.95,263.41 277.23,266.87 275.59,272.46 270.30,272.46 268.67,266.87" fill="#BE00BE"/>
<polygon points="280.89,264.48 285.17,267.93 283.53,273.52 278.24,273.52 276.61,267.93" fill="#BE00BE"/>
<polygon points="288.83,265.44 293.11,268.90 291.48,274.49 286.18,274.49 284.55,268.90" fill="#BE00BE"/>
<polygon points="296.77,266.37 301.05,269.83 299.42,275.42 294.13,275.42 292.49,269.83" fill="#BE00BE"/>
<polygon points="304.71,267.25 308.99,270.71 307.36,276.30 302.07,276.30 300.43,270.71" fill="#BE00BE"/>
<polygon points="312.65,268.08 316.93,271.53 315.30,277.12 310.01,277.12 308.37,271.53" fill="#BE00BE"/>
<polygon points="320.59,268.84 324.87,272.30 323.24,277.89 317.95,277.89 316.31,272.30" fill="#BE00BE"/>
<polygon points="328.54,269.53 332.81,272.98 331.18,278.57 325.89,278.57 324.26,272.98" fill="#BE00BE"/>
<polyline points="50.60,284.70 52.59,271.18 54.57,259.26 56.56,248.73 58.54,239.44 62.51,224.01 66.48,211.99 74.42,192.38 82.36,179.31 90.31,171.14 98.25,164.03 106.19,158.88 114.13,154.47 122.07,151.61 130.01,149.40 137.95,147.61 145.89,145.73 153.83,144.18 161.77,143.52 169.72,142.54 171.70,155.61 173.69,167.05 175.67,177.67 177.66,185.43 181.63,201.37 185.60,213.62 193.54,229.14 201.48,240.99 209.42,248.34 217.36,254.47 225.30,258.96 233.24,262.64 241.18,265.50 249.12,267.95 257.07,269.18 265.01,270.16 272.95,271.09 280.89,272.00 288.83,272.85 296.77,273.66 304.71,274.43 312.65,275.17 320.59,275.87 328.54,276.53" fill="none" stroke="#FF8A1E" stroke-width="1.6" stroke-dasharray="7 3"/>
<path d="M55.50 284.70L47.50 279.50L47.50 289.90Z" fill="#FF8A1E"/>
<path d="M57.49 271.18L49.49 265.98L49.49 276.38Z" fill="#FF8A1E"/>
<path d="M59.47 259.26L51.47 254.06L51.47 264.46Z" fill="#FF8A1E"/>
<path d="M61.46 248.73L53.46 243.53L53.46 253.93Z" fill="#FF8A1E"/>
<path d="M63.44 239.44L55.44 234.24L55.44 244.64Z" fill="#FF8A1E"/>
<path d="M67.41 224.01L59.41 218.81L59.41 229.21Z" fill="#FF8A1E"/>
<path d="M71.38 211.99L63.38 206.79L63.38 217.19Z" fill="#FF8A1E"/>
<path d="M79.32 192.38L71.32 187.18L71.32 197.58Z" fill="#FF8A1E"/>
<path d="M87.26 179.31L79.26 174.11L79.26 184.51Z" fill="#FF8A1E"/>
<path d="M95.21 171.14L87.21 165.94L87.21 176.34Z" fill="#FF8A1E"/>
<path d="M103.15 164.03L95.15 158.83L95.15 169.23Z" fill="#FF8A1E"/>
<path d="M111.09 158.88L103.09 153.68L103.09 164.08Z" fill="#FF8A1E"/>
<path d="M119.03 154.47L111.03 149.27L111.03 159.67Z" fill="#FF8A1E"/>
<path d="M126.97 151.61L118.97 146.41L118.97 156.81Z" fill="#FF8A1E"/>
<path d="M134.91 149.40L126.91 144.20L126.91 154.60Z" fill="#FF8A1E"/>
<path d="M142.85 147.61L134.85 142.41L134.85 152.81Z" fill="#FF8A1E"/>
<path d="M150.79 145.73L142.79 140.53L142.79 150.93Z" fill="#FF8A1E"/>
<path d="M158.73 144.18L150.73 138.98L150.73 149.38Z" fill="#FF8A1E"/>
<path d="M166.67 143.52L158.67 138.32L158.67 148.72Z" fill="#FF8A1E"/>
<path d="M174.62 142.54L166.62 137.34L166.62 147.74Z" fill="#FF8A1E"/>
<path d="M176.60 155.61L168.60 150.41L168.60 160.81Z" fill="#FF8A1E"/>
<path d="M178.59 167.05L170.59 161.85L170.59 172.25Z" fill="#FF8A1E"/>
<path d="M180.57 177.67L172.57 172.47L172.57 182.87Z" fill="#FF8A1E"/>
<path d="M182.56 185.43L174.56 180.23L174.56 190.63Z" fill="#FF8A1E"/>
<path d="M186.53 201.37L178.53 196.17L178.53 206.57Z" fill="#FF8A1E"/>
<path d="M190.50 213.62L182.50 208.42L182.50 218.82Z" fill="#FF8A1E"/>
<path d="M198.44 229.14L190.44 223.94L190.44 234.34Z" fill="#FF8A1E"/>
<path d="M206.38 240.99L198.38 235.79L198.38 246.19Z" fill="#FF8A1E"/>
<path d="M214.32 248.34L206.32 243.14L206.32 253.54Z" fill="#FF8A1E"/>
<path d="M222.26 254.47L214.26 249.27L214.26 259.67Z" fill="#FF8A1E"/>
<path d="M230.20 258.96L222.20 253.76L222.20 264.16Z" fill="#FF8A1E"/>
<path d="M238.14 262.64L230.14 257.44L230.14 267.84Z" fill="#FF8A1E"/>
<path d="M246.08 265.50L238.08 260.30L238.08 270.70Z" fill="#FF8A1E"/>
<path d="M254.03 267.95L246.03 262.75L246.03 273.15Z" fill="#FF8A1E"/>
<path d="M261.97 269.18L253.97 263.98L253.97 274.38Z" fill="#FF8A1E"/>
<path d="M269.91 270.16L261.91 264.96L261.91 275.36Z" fill="#FF8A1E"/>
<path d="M277.85 271.09L269.85 265.89L269.85 276.29Z" fill="#FF8A1E"/>
<path d="M285.79 272.00L277.79 266.80L277.79 277.20Z" fill="#FF8A1E"/>
<path d="M293.73 272.85L285.73 267.65L285.73 278.05Z" fill="#FF8A1E"/>
<path d="M301.67 273.66L293.67 268.46L293.67 278.86Z" fill="#FF8A1E"/>
<path d="M309.61 274.43L301.61 269.23L301.61 279.63Z" fill="#FF8A1E"/>
<path d="M317.55 275.17L309.55 269.97L309.55 280.37Z" fill="#FF8A1E"/>
<path d="M325.49 275.87L317.49 270.67L317.49 281.07Z" fill="#FF8A1E"/>
<path d="M333.44 276.53L325.44 271.33L325.44 281.73Z" fill="#FF8A1E"/>
</g>
<text x="39.5" y="290.30" font-size="16" text-anchor="end">25</text>
<text x="39.5" y="249.45" font-size="16" text-anchor="end">30</text>
<text x="39.5" y="208.60" font-size="16" text-anchor="end">35</text>
<text x="39.5" y="167.75" font-size="16" text-anchor="end">40</text>
<text x="39.5" y="126.90" font-size="16" text-anchor="end">45</text>
<text x="39.5" y="86.05" font-size="16" text-anchor="end">50</text>
<text x="39.5" y="45.20" font-size="16" text-anchor="end">55</text>
<text x="50.60" y="316.3" font-size="16" text-anchor="middle">0</text>
<text x="116.78" y="316.3" font-size="16" text-anchor="middle">500</text>
<text x="182.95" y="316.3" font-size="16" text-anchor="middle">1000</text>
<text x="249.12" y="316.3" font-size="16" text-anchor="middle">1500</text>
<text x="315.30" y="316.3" font-size="16" text-anchor="middle">2000</text>
<text x="180" y="337.6" font-size="19" text-anchor="middle">Time (sec.)</text>
<text transform="translate(14.3,149.2) rotate(-90) scale(1.028,1)" font-size="19" text-anchor="middle">Temperature (°C)</text>
<text x="58" y="28.6" font-size="20" font-weight="bold">(a)</text>
<text x="98" y="34.7" font-size="14" font-weight="bold">Light off</text>
<path d="M156.1 27.7H169.9V35" stroke="#000" stroke-width="2" fill="none"/>
<path d="M166 34.7H173.4L169.7 41.3Z" fill="#000"/>
<text x="183" y="33.9" font-size="14" font-weight="bold">T<tspan font-size="9.7" font-weight="normal" dy="3.8" dx="0.3">max</tspan></text>
<text x="213.2" y="33.9" font-size="14" font-weight="bold">(°C) :</text>
<path d="M182.9 36.1H191M209.5 36.1H246.1" stroke="#000" stroke-width="1.2"/>
<path d="M191 38.3H209.3" stroke="#000" stroke-width="1"/>
<text x="209.8" y="54.4" font-size="13" font-weight="bold" fill="#BB5F0C">53.6</text><path d="M209.5 56.699999999999996H234.4" stroke="#BB5F0C" stroke-width="1.4"/>
<path d="M204.70 49.60L182.60 49.60" stroke="#BB5F0C" stroke-width="1.9"/><path d="M177.10 49.60L183.60 46.20L183.60 53.00Z" fill="#BB5F0C"/>
<text x="209.8" y="70.6" font-size="13" font-weight="bold" fill="#FF0000">53.0</text><path d="M209.5 72.89999999999999H234.4" stroke="#FF0000" stroke-width="1.4"/>
<path d="M204.70 61.80L182.49 57.21" stroke="#FF0000" stroke-width="1.9"/><path d="M177.10 56.10L184.15 54.08L182.78 60.74Z" fill="#FF0000"/>
<text x="209.8" y="86.9" font-size="13" font-weight="bold" fill="#2B72E4">49.9</text><path d="M209.5 89.2H234.4" stroke="#2B72E4" stroke-width="1.4"/>
<path d="M204.70 80.40L182.60 80.40" stroke="#2B72E4" stroke-width="1.9"/><path d="M177.10 80.40L183.60 77.00L183.60 83.80Z" fill="#2B72E4"/>
<text x="209.8" y="106.8" font-size="13" font-weight="bold" fill="#BE00BE">47.5</text><path d="M209.5 109.1H234.4" stroke="#BE00BE" stroke-width="1.4"/>
<path d="M204.70 102.30L187.10 102.30" stroke="#BE00BE" stroke-width="1.9"/><path d="M181.60 102.30L188.10 98.90L188.10 105.70Z" fill="#BE00BE"/>
<text x="208.0" y="133.3" font-size="13" font-weight="bold" fill="#1E8C1E">43.1</text><path d="M207.7 135.60000000000002H232.6" stroke="#1E8C1E" stroke-width="1.4"/>
<path d="M205.30 127.20L191.65 132.36" stroke="#1E8C1E" stroke-width="1.9"/><path d="M186.50 134.30L191.38 128.82L193.78 135.18Z" fill="#1E8C1E"/>
<text x="209.4" y="150.4" font-size="13" font-weight="bold" fill="#FF8A1E">42.3</text><path d="M209.1 152.70000000000002H234.0" stroke="#FF8A1E" stroke-width="1.4"/>
<path d="M205.30 143.40L192.00 143.40" stroke="#FF8A1E" stroke-width="1.9"/><path d="M186.50 143.40L193.00 140.00L193.00 146.80Z" fill="#FF8A1E"/>
<text x="209.4" y="166.0" font-size="13" font-weight="bold" fill="#000">41.1</text><path d="M209.1 168.3H234.0" stroke="#000" stroke-width="1.4"/>
<path d="M206.30 159.90L191.70 154.89" stroke="#000" stroke-width="1.9"/><path d="M186.50 153.10L193.75 152.00L191.54 158.43Z" fill="#000"/>
<text x="208.0" y="199.3" font-size="13" fill="#858585">32.2</text><path d="M207.7 201.60000000000002H232.6" stroke="#858585" stroke-width="1.4"/>
<path d="M203.30 195.20L176.86 216.82" stroke="#858585" stroke-width="1.6"/><path d="M172.60 220.30L175.48 213.55L179.78 218.82Z" fill="#858585"/>
<text x="85.2" y="274.7" font-size="13.5" fill="#8A8A8A">Ti substrate</text>
<path d="M129.3 263.3L148.1 256.7L134 249.4" stroke="#7A7A7A" stroke-width="2.2" fill="none" stroke-linejoin="miter"/>
<path d="M123 243.2L142.2 246.4L134.6 249.8L135.1 257.5Z" fill="#7A7A7A"/>
<text y="113.1" font-size="14" font-weight="bold"><tspan x="255.6" font-style="italic">T</tspan><tspan x="263.2" font-size="10" font-style="italic" dy="3.6">s</tspan><tspan x="271.2" dy="-3.6">(Ti</tspan><tspan x="290.1" font-size="10" dy="3.6">4</tspan><tspan x="294.3" dy="-3.6">O</tspan><tspan x="305.6" font-size="10" dy="3.6" font-style="italic">7</tspan><tspan x="311.4" dy="-3.6">):</tspan></text>
<path d="M255.3 115.2H263.2M268.6 115.2H290.1M294.5 115.2H305.6M310.9 115.2H320.7" stroke="#000" stroke-width="1.2"/>
<path d="M263.2 117.9H268.6M290.1 117.9H294.5M305.6 117.9H310.9" stroke="#000" stroke-width="1"/>
<path d="M256.9 128.4H283.4" stroke="#FF8A1E" stroke-width="2.2"/>
<path d="M275.20 128.40L267.20 123.20L267.20 133.60Z" fill="#FF8A1E"/>
<text x="287.3" y="132.70000000000002" font-size="12" font-weight="bold">650°C</text>
<path d="M256.9 143.3H283.4" stroke="#BE00BE" stroke-width="2.2"/>
<polygon points="270.30,138.75 274.58,142.20 272.95,147.80 267.65,147.80 266.02,142.20" fill="#BE00BE"/>
<text x="287.3" y="147.60000000000002" font-size="12" font-weight="bold">600°C</text>
<path d="M256.9 158.9H283.4" stroke="#2B72E4" stroke-width="2.2"/>
<polygon points="270.30,154.00 274.25,156.45 274.25,161.35 270.30,163.80 266.35,161.35 266.35,156.45" fill="#2B72E4"/>
<text x="287.3" y="163.20000000000002" font-size="12" font-weight="bold">550°C</text>
<path d="M256.9 174.3H283.4" stroke="#FF0000" stroke-width="2.2"/>
<path d="M270.30 168.55L275.30 174.30L270.30 180.05L265.30 174.30Z" fill="#FF0000"/>
<text x="287.3" y="178.60000000000002" font-size="12" font-weight="bold">500°C</text>
<path d="M256.9 189.1H283.4" stroke="#BB5F0C" stroke-width="2.2"/>
<path d="M270.30 183.30L275.15 192.20L265.45 192.20Z" fill="#BB5F0C"/>
<text x="287.3" y="193.4" font-size="12" font-weight="bold">450°C</text>
<path d="M256.9 204.0H283.4" stroke="#4BB44B" stroke-width="2.2"/>
<circle cx="270.30" cy="204.00" r="4.4" fill="#4BB44B"/>
<text x="287.3" y="208.3" font-size="12" font-weight="bold">300°C</text>
<path d="M256.9 219.3H283.4" stroke="#000000" stroke-width="2.2"/>
<rect x="266.10" y="215.10" width="8.4" height="8.4" fill="#000"/>
<text x="287.3" y="223.60000000000002" font-size="12" font-weight="bold">25°C</text>
<rect x="401.6" y="6.8" width="278.4" height="284.4" fill="url(#bga)"/>
<polyline points="410.46,229.96 411.27,229.84 412.08,229.72 412.89,229.60 413.70,229.48 414.50,229.36 415.31,229.24 416.12,229.11 416.93,228.98 417.74,228.85 418.54,228.72 419.35,228.59 420.16,228.46 420.97,228.33 421.78,228.20 422.58,228.07 423.39,227.94 424.20,227.81 425.01,227.68 425.82,227.55 426.62,227.41 427.43,227.27 428.24,227.13 429.05,226.98 429.86,226.83 430.66,226.67 431.47,226.51 432.28,226.34 433.09,226.16 433.90,225.98 434.70,225.79 435.51,225.59 436.32,225.38 437.13,225.16 437.94,224.91 438.74,224.65 439.55,224.38 440.36,224.09 441.17,223.79 441.98,223.48 442.78,223.15 443.59,222.81 444.40,222.46 445.21,222.11 446.02,221.74 446.82,221.37 447.63,220.99 448.44,220.61 449.25,220.22 450.06,219.83 450.86,219.43 451.67,219.03 452.48,218.64 453.29,218.24 454.10,217.84 454.90,217.44 455.71,217.04 456.52,216.65 457.33,216.26 458.14,215.87 458.94,215.47 459.75,215.07 460.56,214.66 461.37,214.25 462.18,213.83 462.98,213.41 463.79,212.99 464.60,212.56 465.41,212.13 466.22,211.69 467.02,211.24 467.83,210.80 468.64,210.34 469.45,209.88 470.26,209.42 471.06,208.95 471.87,208.47 472.68,207.99 473.49,207.50 474.30,207.00 475.10,206.50 475.91,206.00 476.72,205.48 477.53,204.96 478.34,204.43 479.14,203.88 479.95,203.34 480.76,202.78 481.57,202.21 482.38,201.64 483.18,201.06 483.99,200.47 484.80,199.88 485.61,199.27 486.42,198.66 487.22,198.05 488.03,197.42 488.84,196.79 489.65,196.16 490.46,195.51 491.26,194.87 492.07,194.21 492.88,193.55 493.69,192.88 494.50,192.21 495.30,191.51 496.11,190.79 496.92,190.06 497.73,189.31 498.54,188.55 499.34,187.79 500.15,187.02 500.96,186.25 501.77,185.48 502.58,184.72 503.38,183.98 504.19,183.26 505.00,182.55 505.81,181.85 506.62,181.16 507.42,180.48 508.23,179.79 509.04,179.09 509.85,178.39 510.66,177.66 511.46,176.92 512.27,176.15 513.08,175.36 513.89,174.53 514.70,173.66 515.50,172.75 516.31,171.79 517.12,170.79 517.93,169.72 518.74,168.58 519.54,167.36 520.35,166.07 521.16,164.71 521.97,163.28 522.78,161.79 523.58,160.24 524.39,158.64 525.20,156.98 526.01,155.27 526.82,153.51 527.62,151.71 528.43,149.86 529.24,147.98 530.05,146.06 530.86,144.11 531.66,142.13 532.47,140.12 533.28,138.09 534.09,136.04 534.90,133.98 535.70,131.89 536.51,129.80 537.32,127.70 538.13,125.59 538.94,123.48 539.74,121.37 540.55,119.27 541.36,117.17 542.17,115.07 542.98,112.91 543.78,110.70 544.59,108.44 545.40,106.13 546.21,103.78 547.02,101.39 547.82,98.96 548.63,96.51 549.44,94.03 550.25,91.52 551.06,89.01 551.86,86.47 552.67,83.93 553.48,81.39 554.29,78.84 555.10,76.30 555.90,73.77 556.71,71.24 557.52,68.67 558.33,65.80 559.14,62.78 559.94,59.78 560.75,56.98 561.56,54.53 562.37,52.63 563.18,51.34 563.98,50.20 564.79,49.11 565.60,48.06 566.41,47.07 567.22,46.14 568.02,45.27 568.83,44.47 569.64,43.75 570.45,43.11 571.26,42.56 572.06,42.10 572.87,41.74 573.68,41.49 574.49,41.34 575.30,41.30 576.10,41.33 576.91,41.40 577.72,41.51 578.53,41.65 579.34,41.82 580.14,42.01 580.95,42.23 581.76,42.48 582.57,42.74 583.38,43.03 584.18,43.32 584.99,43.64 585.80,44.07 586.61,44.64 587.42,45.33 588.22,46.12 589.03,47.01 589.84,47.98 590.65,49.01 591.46,50.09 592.26,51.20 593.07,52.32 593.88,53.45 594.69,54.57 595.50,55.76 596.30,57.02 597.11,58.34 597.92,59.73 598.73,61.18 599.54,62.68 600.34,64.23 601.15,65.83 601.96,67.47 602.77,69.15 603.58,70.86 604.38,72.60 605.19,74.37 606.00,76.15 606.81,77.95 607.62,79.76 608.42,81.58 609.23,83.40 610.04,85.21 610.85,87.02 611.66,88.83 612.46,90.61 613.27,92.38 614.08,94.12 614.89,95.85 615.70,97.57 616.50,99.28 617.31,100.99 618.12,102.70 618.93,104.41 619.74,106.13 620.54,107.85 621.35,109.59 622.16,111.35 622.97,113.12 623.78,114.92 624.58,116.74 625.39,118.59 626.20,120.48 627.01,122.40 627.82,124.36 628.62,126.36 629.43,128.41 630.24,130.51 631.05,132.66 631.86,134.86 632.66,137.13 633.47,139.46 634.28,141.86 635.09,144.33 635.90,146.86 636.70,149.46 637.51,152.13 638.32,154.85 639.13,157.64 639.94,160.48 640.74,163.39 641.55,166.35 642.36,169.37 643.17,172.44 643.98,175.56 644.78,178.74 645.59,181.96 646.40,185.23 647.21,188.55 648.02,191.91 648.82,195.32 649.63,198.77 650.44,202.26 651.25,205.80 652.05,209.37" fill="none" stroke="#FF0000" stroke-width="2.5" stroke-dasharray="11.2 10.4" stroke-dashoffset="-3.1"/>
<path d="M410.46 223.28V236.63M403.66 223.28H417.26M403.66 236.63H417.26" stroke="#FF0000" stroke-width="2"/>
<circle cx="410.46" cy="229.96" r="6.8" fill="url(#sphr)"/>
<path d="M517.41 161.51V179.32M510.61 161.51H524.21M510.61 179.32H524.21" stroke="#FF0000" stroke-width="2"/>
<circle cx="517.41" cy="170.41" r="6.8" fill="url(#sphr)"/>
<path d="M575.12 29.06V53.55M568.32 29.06H581.91M568.32 53.55H581.91" stroke="#FF0000" stroke-width="2"/>
<circle cx="575.12" cy="41.30" r="6.8" fill="url(#sphr)"/>
<path d="M594.35 41.86V66.35M587.55 41.86H601.15M587.55 66.35H601.15" stroke="#FF0000" stroke-width="2"/>
<circle cx="594.35" cy="54.10" r="6.8" fill="url(#sphr)"/>
<path d="M613.59 81.93V104.19M606.79 81.93H620.38M606.79 104.19H620.38" stroke="#FF0000" stroke-width="2"/>
<circle cx="613.59" cy="93.06" r="6.8" fill="url(#sphr)"/>
<path d="M632.82 128.67V146.48M626.02 128.67H639.62M626.02 146.48H639.62" stroke="#FF0000" stroke-width="2"/>
<circle cx="632.82" cy="137.58" r="6.8" fill="url(#sphr)"/>
<path d="M652.05 201.58V217.16M645.25 201.58H658.85M645.25 217.16H658.85" stroke="#FF0000" stroke-width="2"/>
<circle cx="652.05" cy="209.37" r="6.8" fill="url(#sphr)"/>
<circle cx="411" cy="269.8" r="6.6" fill="url(#sphg)"/>
<text x="451.6" y="266.7" font-size="15.3" font-weight="bold" fill="#888888">Ti-Substrate</text>
<path d="M450.50 262.50L433.58 267.07" stroke="#888888" stroke-width="2.3"/><path d="M422.00 270.20L436.47 260.49L433.58 267.07L439.39 271.30Z" fill="#888888"/>
<path d="M401.6 239V6.8H680.0V291.2H401.6V247" fill="none" stroke="#000" stroke-width="2.2"/>
<path d="M396.4 242.4L406.2 238.9M396.4 247.2L406.3 243.2" stroke="#000" stroke-width="1.9"/>
<path d="M675.2 242.2L682.5 238.4M675.2 247L682.5 243.2" stroke="#000" stroke-width="1.9"/>
<path d="M398.9 234.97H404.3M396.9 229.40H406.8M398.9 223.84H404.3M398.9 218.27H404.3M398.9 212.71H404.3M398.9 207.14H404.3M396.9 201.58H406.8M398.9 196.01H404.3M398.9 190.45H404.3M398.9 184.88H404.3M398.9 179.32H404.3M396.9 173.75H406.8M398.9 168.19H404.3M398.9 162.62H404.3M398.9 157.06H404.3M398.9 151.49H404.3M396.9 145.93H406.8M398.9 140.36H404.3M398.9 134.80H404.3M398.9 129.23H404.3M398.9 123.67H404.3M396.9 118.10H406.8M398.9 112.54H404.3M398.9 106.97H404.3M398.9 101.41H404.3M398.9 95.84H404.3M396.9 90.28H406.8M398.9 84.71H404.3M398.9 79.14H404.3M398.9 73.58H404.3M398.9 68.02H404.3M396.9 62.45H406.8M398.9 56.88H404.3M398.9 51.32H404.3M398.9 45.76H404.3M398.9 40.19H404.3M396.9 34.62H406.8M398.9 29.06H404.3M398.9 23.50H404.3M398.9 17.93H404.3M398.9 12.37H404.3M396.9 6.80H406.8M398.9 285.60H404.3M398.9 280.00H404.3M398.9 274.40H404.3M398.9 268.80H404.3M396.9 263.20H406.8M398.9 257.60H404.3M398.9 252.00H404.3M402.00 284.4V296.8M421.24 287V294.6M440.47 284.4V296.8M459.70 287V294.6M478.94 284.4V296.8M498.18 287V294.6M517.41 284.4V296.8M536.64 287V294.6M555.88 284.4V296.8M575.12 287V294.6M594.35 284.4V296.8M613.59 287V294.6M632.82 284.4V296.8M652.05 287V294.6M671.29 284.4V296.8" stroke="#000" stroke-width="2" fill="none"/>
<text x="392.2" y="233.60" font-size="15" text-anchor="end">40</text>
<text x="392.2" y="205.78" font-size="15" text-anchor="end">45</text>
<text x="392.2" y="177.95" font-size="15" text-anchor="end">50</text>
<text x="392.2" y="150.12" font-size="15" text-anchor="end">55</text>
<text x="392.2" y="122.30" font-size="15" text-anchor="end">60</text>
<text x="392.2" y="94.48" font-size="15" text-anchor="end">65</text>
<text x="392.2" y="66.65" font-size="15" text-anchor="end">70</text>
<text x="392.2" y="38.83" font-size="15" text-anchor="end">75</text>
<text x="392.2" y="11.00" font-size="15" text-anchor="end">80</text>
<text x="392.2" y="295.40" font-size="15" text-anchor="end">15</text>
<text x="392.2" y="267.40" font-size="15" text-anchor="end">20</text>
<text x="402.00" y="312.5" font-size="15" text-anchor="middle">0</text>
<text x="440.47" y="312.5" font-size="15" text-anchor="middle">100</text>
<text x="478.94" y="312.5" font-size="15" text-anchor="middle">200</text>
<text x="517.41" y="312.5" font-size="15" text-anchor="middle">300</text>
<text x="555.88" y="312.5" font-size="15" text-anchor="middle">400</text>
<text x="594.35" y="312.5" font-size="15" text-anchor="middle">500</text>
<text x="632.82" y="312.5" font-size="15" text-anchor="middle">600</text>
<text x="671.29" y="312.5" font-size="15" text-anchor="middle">700</text>
<text x="545.5" y="335.4" font-size="19" text-anchor="middle"><tspan font-style="italic">T</tspan><tspan font-size="14" font-style="italic" dy="4.5">s</tspan><tspan dy="-4.5"> (°C)</tspan></text>
<text transform="translate(361.6,148.5) rotate(-90)" font-size="19" text-anchor="middle">η<tspan font-size="18" dy="4">ext</tspan><tspan dy="-4" dx="1"> (%)</tspan></text>
<text x="417" y="34" font-size="22" font-weight="bold">(c)</text>
<rect x="4.8" y="343.1" width="33.8" height="40" fill="#000"/>
<rect x="4.8" y="373.1" width="677.3" height="171.3" fill="#000"/>
<text x="9.8" y="365.2" font-size="21" font-weight="bold" fill="#fff">(b)</text>
<defs><filter id="bl4" x="-30%" y="-30%" width="160%" height="160%"><feGaussianBlur stdDeviation="4"/></filter><filter id="bl6" x="-40%" y="-40%" width="180%" height="180%"><feGaussianBlur stdDeviation="5.5"/></filter><filter id="bl2" x="-30%" y="-30%" width="160%" height="160%"><feGaussianBlur stdDeviation="1.6"/></filter><filter id="bl1" x="-30%" y="-30%" width="160%" height="160%"><feGaussianBlur stdDeviation="0.7"/></filter><clipPath id="cliptiles"><rect x="18.3" y="387.9" width="637.0" height="91.5"/></clipPath><linearGradient id="cbar" x1="0" y1="0" x2="1" y2="0"><stop offset="0" stop-color="#0000FF"/><stop offset="0.07" stop-color="#0030FF"/><stop offset="0.144" stop-color="#0080F2"/><stop offset="0.204" stop-color="#00C0F5"/><stop offset="0.249" stop-color="#00FFFF"/><stop offset="0.308" stop-color="#00FFC0"/><stop offset="0.368" stop-color="#00FF80"/><stop offset="0.442" stop-color="#00FF30"/><stop offset="0.505" stop-color="#00FF00"/><stop offset="0.566" stop-color="#50FF00"/><stop offset="0.641" stop-color="#A0FF00"/><stop offset="0.746" stop-color="#FFFF00"/><stop offset="0.83" stop-color="#FFC000"/><stop offset="0.905" stop-color="#FF8000"/><stop offset="0.974" stop-color="#FF3000"/><stop offset="1" stop-color="#FF0000"/></linearGradient></defs>
<g clip-path="url(#cliptiles)">
<rect x="18.3" y="387.9" width="80.2" height="91.5" fill="#0870F8"/>
<text transform="translate(24.5,405) scale(0.9,1)" font-size="17.5" font-weight="bold" fill="#000">t=0s</text>
<rect x="98.2" y="387.9" width="80.1" height="91.5" fill="#2AF6F4"/>
<g clip-path="url(#ct1)"><defs><clipPath id="ct1"><rect x="98.2" y="387.9" width="79.8" height="91.5"/></clipPath></defs>
<rect x="104.4" y="402.5" width="66.6" height="57.2" rx="9" fill="#18F0B0" filter="url(#bl4)"/>
</g>
<path d="M111.9 413.5Q111.9 409.0 115.4 409.0Q117.4 409.0 119.4 411.5Q122.4 414.0 126.4 411.5L128.4 410.5L161.0 410.5Q164.0 410.5 164.0 413.5L164.5 449.7Q164.5 452.7 161.0 452.7L114.4 452.2Q111.4 452.2 111.4 449.2Z" fill="#1CF05A" filter="url(#bl2)"/>
<ellipse cx="155.5" cy="447.2" rx="5" ry="3" fill="#18F0B0" opacity="0.6" filter="url(#bl1)"/>
<text transform="translate(103.3,405) scale(0.9,1)" font-size="17.5" font-weight="bold" fill="#000">t=60s</text>
<rect x="178.0" y="387.9" width="80.3" height="91.5" fill="#18F8D0"/>
<g clip-path="url(#ct2)"><defs><clipPath id="ct2"><rect x="178.0" y="387.9" width="80.0" height="91.5"/></clipPath></defs>
<rect x="185" y="405.2" width="67.2" height="58.4" rx="9" fill="#00FF80" filter="url(#bl4)"/>
</g>
<path d="M192.5 416.2Q192.5 411.7 196.0 411.7Q198.0 411.7 200.0 414.2Q203.0 416.7 207.0 414.2L209.0 413.2L242.2 413.2Q245.2 413.2 245.2 416.2L245.7 453.6Q245.7 456.6 242.2 456.6L195.0 456.1Q192.0 456.1 192.0 453.1Z" fill="#46FC06" filter="url(#bl2)"/>
<ellipse cx="236.7" cy="451.1" rx="5" ry="3" fill="#00FF80" opacity="0.6" filter="url(#bl1)"/>
<text transform="translate(183.1,405) scale(0.9,1)" font-size="17.5" font-weight="bold" fill="#000">t=120s</text>
<rect x="258.0" y="387.9" width="80.0" height="91.5" fill="#14F6A0"/>
<g clip-path="url(#ct3)"><defs><clipPath id="ct3"><rect x="258.0" y="387.9" width="79.7" height="91.5"/></clipPath></defs>
<rect x="258.7" y="397.9" width="74.3" height="68.8" rx="14" fill="#00FF44" filter="url(#bl6)"/>
<rect x="264.7" y="403.9" width="62.3" height="56.8" rx="8" fill="#00FF44" filter="url(#bl4)"/>
</g>
<path d="M270.2 412.9Q270.2 408.4 273.7 408.4Q275.7 408.4 277.7 410.9Q280.7 413.4 284.7 410.9L286.7 409.9L319.0 409.9Q322.0 409.9 322.0 412.9L322.5 452.7Q322.5 455.7 319.0 455.7L272.7 455.2Q269.7 455.2 269.7 452.2Z" fill="#C0FC20" stroke="#C0FC20" stroke-width="3" filter="url(#bl2)"/>
<path d="M270.2 412.9Q270.2 408.4 273.7 408.4Q275.7 408.4 277.7 410.9Q280.7 413.4 284.7 410.9L286.7 409.9L319.0 409.9Q322.0 409.9 322.0 412.9L322.5 452.7Q322.5 455.7 319.0 455.7L272.7 455.2Q269.7 455.2 269.7 452.2Z" fill="#F2FC10" transform="translate(295.9,432.3) scale(0.955,0.95) translate(-295.9,-432.3)" filter="url(#bl1)"/>
<ellipse cx="313.5" cy="450.2" rx="5.5" ry="3.2" fill="#B8F040" stroke="#C0FC20" stroke-width="1.2" filter="url(#bl1)"/>
<text transform="translate(263.1,405) scale(0.9,1)" font-size="17.5" font-weight="bold" fill="#000">t=240s</text>
<rect x="337.7" y="387.9" width="79.6" height="91.5" fill="#16F880"/>
<g clip-path="url(#ct4)"><defs><clipPath id="ct4"><rect x="337.7" y="387.9" width="79.3" height="91.5"/></clipPath></defs>
<rect x="339.6" y="398.8" width="72.5" height="66.1" rx="14" fill="#20FF30" filter="url(#bl6)"/>
<rect x="345.6" y="404.8" width="60.5" height="54.1" rx="8" fill="#20FF30" filter="url(#bl4)"/>
</g>
<path d="M351.1 413.8Q351.1 409.3 354.6 409.3Q356.6 409.3 358.6 411.8Q361.6 414.3 365.6 411.8L367.6 410.8L398.1 410.8Q401.1 410.8 401.1 413.8L401.6 450.9Q401.6 453.9 398.1 453.9L353.6 453.4Q350.6 453.4 350.6 450.4Z" fill="#F8FC10" stroke="#F8FC10" stroke-width="3" filter="url(#bl2)"/>
<path d="M351.1 413.8Q351.1 409.3 354.6 409.3Q356.6 409.3 358.6 411.8Q361.6 414.3 365.6 411.8L367.6 410.8L398.1 410.8Q401.1 410.8 401.1 413.8L401.6 450.9Q401.6 453.9 398.1 453.9L353.6 453.4Q350.6 453.4 350.6 450.4Z" fill="#FFA822" transform="translate(375.9,431.9) scale(0.955,0.95) translate(-375.9,-431.9)" filter="url(#bl1)"/>
<ellipse cx="392.6" cy="448.4" rx="5.5" ry="3.2" fill="#B8F040" stroke="#F8FC10" stroke-width="1.2" filter="url(#bl1)"/>
<text transform="translate(342.8,402.4) scale(0.9,1)" font-size="17.5" font-weight="bold" fill="#000">t=360s</text>
<rect x="417.0" y="387.9" width="80.2" height="91.5" fill="#14F86C"/>
<g clip-path="url(#ct5)"><defs><clipPath id="ct5"><rect x="417.0" y="387.9" width="79.9" height="91.5"/></clipPath></defs>
<rect x="419" y="396.9" width="74.5" height="66.6" rx="14" fill="#30FF20" filter="url(#bl6)"/>
<rect x="425" y="402.9" width="62.5" height="54.6" rx="8" fill="#30FF20" filter="url(#bl4)"/>
</g>
<path d="M430.5 411.9Q430.5 407.4 434.0 407.4Q436.0 407.4 438.0 409.9Q441.0 412.4 445.0 409.9L447.0 408.9L479.5 408.9Q482.5 408.9 482.5 411.9L483.0 449.5Q483.0 452.5 479.5 452.5L433.0 452.0Q430.0 452.0 430.0 449.0Z" fill="#F8FC10" stroke="#F8FC10" stroke-width="3" filter="url(#bl2)"/>
<path d="M430.5 411.9Q430.5 407.4 434.0 407.4Q436.0 407.4 438.0 409.9Q441.0 412.4 445.0 409.9L447.0 408.9L479.5 408.9Q482.5 408.9 482.5 411.9L483.0 449.5Q483.0 452.5 479.5 452.5L433.0 452.0Q430.0 452.0 430.0 449.0Z" fill="#FF9826" transform="translate(456.2,430.2) scale(0.955,0.95) translate(-456.2,-430.2)" filter="url(#bl1)"/>
<ellipse cx="474.0" cy="447.0" rx="5.5" ry="3.2" fill="#B8F040" stroke="#F8FC10" stroke-width="1.2" filter="url(#bl1)"/>
<text transform="translate(422.1,402.4) scale(0.9,1)" font-size="17.5" font-weight="bold" fill="#000">t=480s</text>
<rect x="496.9" y="387.9" width="79.4" height="91.5" fill="#20F858"/>
<g clip-path="url(#ct6)"><defs><clipPath id="ct6"><rect x="496.9" y="387.9" width="79.1" height="91.5"/></clipPath></defs>
<rect x="496.8" y="401" width="75.0" height="67.3" rx="14" fill="#58FF10" filter="url(#bl6)"/>
<rect x="502.8" y="407" width="63.0" height="55.3" rx="8" fill="#58FF10" filter="url(#bl4)"/>
</g>
<path d="M508.3 416.0Q508.3 411.5 511.8 411.5Q513.8 411.5 515.8 414.0Q518.8 416.5 522.8 414.0L524.8 413.0L557.8 413.0Q560.8 413.0 560.8 416.0L561.3 454.3Q561.3 457.3 557.8 457.3L510.8 456.8Q507.8 456.8 507.8 453.8Z" fill="#F8FC10" stroke="#F8FC10" stroke-width="3" filter="url(#bl2)"/>
<path d="M508.3 416.0Q508.3 411.5 511.8 411.5Q513.8 411.5 515.8 414.0Q518.8 416.5 522.8 414.0L524.8 413.0L557.8 413.0Q560.8 413.0 560.8 416.0L561.3 454.3Q561.3 457.3 557.8 457.3L510.8 456.8Q507.8 456.8 507.8 453.8Z" fill="#FF8A28" transform="translate(534.3,434.6) scale(0.955,0.95) translate(-534.3,-434.6)" filter="url(#bl1)"/>
<ellipse cx="552.3" cy="451.8" rx="5.5" ry="3.2" fill="#B8F040" stroke="#F8FC10" stroke-width="1.2" filter="url(#bl1)"/>
<text transform="translate(502.0,402.4) scale(0.9,1)" font-size="17.5" font-weight="bold" fill="#000">t=600s</text>
<rect x="576.0" y="387.9" width="79.7" height="91.5" fill="#30F834"/>
<g clip-path="url(#ct7)"><defs><clipPath id="ct7"><rect x="576.0" y="387.9" width="79.4" height="91.5"/></clipPath></defs>
<rect x="576.4" y="399.7" width="75.3" height="68.8" rx="14" fill="#88FF08" filter="url(#bl6)"/>
<rect x="582.4" y="405.7" width="63.3" height="56.8" rx="8" fill="#88FF08" filter="url(#bl4)"/>
</g>
<path d="M587.9 414.7Q587.9 410.2 591.4 410.2Q593.4 410.2 595.4 412.7Q598.4 415.2 602.4 412.7L604.4 411.7L637.7 411.7Q640.7 411.7 640.7 414.7L641.2 454.5Q641.2 457.5 637.7 457.5L590.4 457.0Q587.4 457.0 587.4 454.0Z" fill="#F8FC10" stroke="#F8FC10" stroke-width="3" filter="url(#bl2)"/>
<path d="M587.9 414.7Q587.9 410.2 591.4 410.2Q593.4 410.2 595.4 412.7Q598.4 415.2 602.4 412.7L604.4 411.7L637.7 411.7Q640.7 411.7 640.7 414.7L641.2 454.5Q641.2 457.5 637.7 457.5L590.4 457.0Q587.4 457.0 587.4 454.0Z" fill="#FF7424" transform="translate(614.0,434.1) scale(0.955,0.95) translate(-614.0,-434.1)" filter="url(#bl1)"/>
<ellipse cx="632.2" cy="452.0" rx="5.5" ry="3.2" fill="#B8F040" stroke="#F8FC10" stroke-width="1.2" filter="url(#bl1)"/>
<text transform="translate(581.1,402.4) scale(0.9,1)" font-size="17.5" font-weight="bold" fill="#000">t=900s</text>
</g>
<rect x="13" y="491" width="647.2" height="20.3" fill="url(#cbar)"/>
<text x="20.9" y="535.2" font-size="18" font-weight="bold" fill="#fff" text-anchor="middle">25</text>
<text x="125.6" y="535.2" font-size="18" font-weight="bold" fill="#fff" text-anchor="middle">30</text>
<text x="230.3" y="535.2" font-size="18" font-weight="bold" fill="#fff" text-anchor="middle">35</text>
<text x="335.0" y="535.2" font-size="18" font-weight="bold" fill="#fff" text-anchor="middle">40</text>
<text x="439.7" y="535.2" font-size="18" font-weight="bold" fill="#fff" text-anchor="middle">45</text>
<text x="544.4" y="535.2" font-size="18" font-weight="bold" fill="#fff" text-anchor="middle">50</text>
<text x="649.1" y="535.2" font-size="18" font-weight="bold" fill="#fff" text-anchor="middle">55</text>
<text x="661.6" y="533.6" font-size="19" fill="#fff">°</text>
<text x="670.6" y="534" font-size="16.5" font-weight="bold" fill="#fff">C</text>
</svg>
</body></html>
